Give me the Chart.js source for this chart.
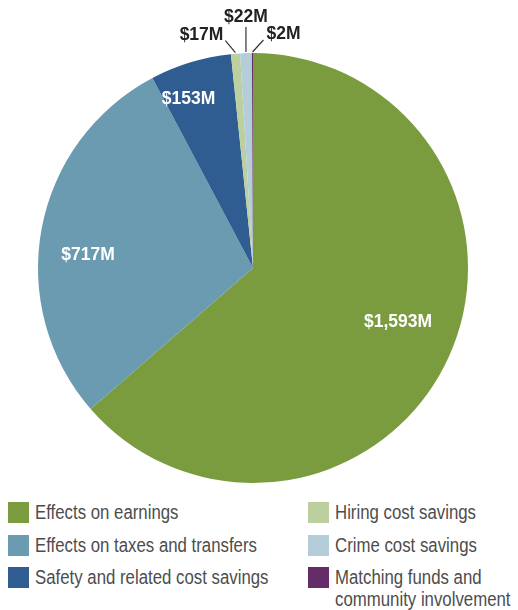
<!DOCTYPE html>
<html>
<head>
<meta charset="utf-8">
<script src="https://cdn.jsdelivr.net/npm/chart.js@4.4.0/dist/chart.umd.min.js"></script>
<style>
  body { margin: 0; background: #fff; }
  #wrap { position: relative; width: 518px; height: 610px; }
  #chartBox { position: absolute; left: 0; top: 0; width: 518px; height: 490px; }
  .item { position: absolute; font-family: "Liberation Sans", Arial, sans-serif; white-space: nowrap;
          font-size: 20px; line-height: 22px; color: #4d4d4d;
          transform: scaleX(0.84); transform-origin: left top; }
  .box { position: absolute; width: 21px; height: 21px; }
</style>
</head>
<body>
<div id="wrap">
  <div id="chartBox"><canvas id="myChart"></canvas></div>
</div>
<script>
// data (millions of dollars)
const categories = [
  "Effects on earnings",
  "Effects on taxes and transfers",
  "Safety and related cost savings",
  "Hiring cost savings",
  "Crime cost savings",
  ["Matching funds and", "community involvement"]
];
const values = [1593, 717, 153, 17, 22, 2];
const valueLabels = ["$1,593M", "$717M", "$153M", "$17M", "$22M", "$2M"];
const colors = ["#7a9c3e", "#6b9bb0", "#2f5d91", "#bccf9f", "#b3cdd9", "#652d67"];

// label placement: inside slices use [radius fraction, angle shift in deg]
// outside slices use a leader line that goes out by [dx, dy]
const insideLabels = { 0: [0.72, -4], 1: [0.77, -6], 2: [0.84, -4] };
const outsideLabels = { 3: [-10, -12], 4: [0, -25], 5: [11, -12] };

// draws the value labels and leader lines
const labelPlugin = {
  id: "valueLabels",
  afterDatasetsDraw(chart) {
    const ctx = chart.ctx;
    const arcs = chart.getDatasetMeta(0).data;
    ctx.save();
    ctx.font = "bold 17.5px 'Liberation Sans', Arial, sans-serif";
    arcs.forEach((arc, i) => {
      const p = arc.getProps(["x", "y", "startAngle", "endAngle", "outerRadius"], true);
      const mid = (p.startAngle + p.endAngle) / 2;
      if (insideLabels[i]) {
        const [f, shift] = insideLabels[i];
        const a = mid + shift * Math.PI / 180;
        const x = p.x + Math.cos(a) * p.outerRadius * f;
        const y = p.y + Math.sin(a) * p.outerRadius * f;
        ctx.fillStyle = "#fff";
        ctx.textAlign = "center";
        ctx.textBaseline = "middle";
        ctx.fillText(valueLabels[i], x, y);
      } else if (outsideLabels[i]) {
        const [dx, dy] = outsideLabels[i];
        const x0 = p.x + Math.cos(mid) * (p.outerRadius + 1);
        const y0 = p.y + Math.sin(mid) * (p.outerRadius + 1);
        const x1 = x0 + dx, y1 = y0 + dy;
        ctx.strokeStyle = "#333";
        ctx.lineWidth = 1.2;
        ctx.beginPath();
        ctx.moveTo(x0, y0);
        ctx.lineTo(x1, y1);
        ctx.stroke();
        ctx.fillStyle = "#222";
        ctx.textBaseline = "middle";
        if (dx < 0) {
          ctx.textAlign = "right";
          ctx.fillText(valueLabels[i], x1 - 2, y1 - 6);
        } else if (dx > 0) {
          ctx.textAlign = "left";
          ctx.fillText(valueLabels[i], x1 + 3, y1 - 6);
        } else {
          ctx.textAlign = "center";
          ctx.fillText(valueLabels[i], x1, y1 - 10);
        }
      }
    });
    ctx.restore();
  }
};

const chart = new Chart(document.getElementById("myChart"), {
  type: "pie",
  data: {
    labels: categories,
    datasets: [{
      data: values,
      backgroundColor: colors,
      borderWidth: 0
    }]
  },
  options: {
    responsive: true,
    maintainAspectRatio: false,
    animation: false,
    layout: { padding: { top: 53, bottom: 7, left: 38, right: 50 } },
    plugins: { legend: { display: false }, tooltip: { enabled: false } }
  },
  plugins: [labelPlugin]
});

// legend in two columns under the pie
const wrap = document.getElementById("wrap");
const rowTops = [502, 535, 567];
categories.forEach((cat, i) => {
  const col = Math.floor(i / 3), row = i % 3;
  const left = col === 0 ? 8 : 308;
  const box = document.createElement("div");
  box.className = "box";
  box.style.left = left + "px";
  box.style.top = rowTops[row] + "px";
  box.style.background = colors[i];
  wrap.appendChild(box);
  const txt = document.createElement("div");
  txt.className = "item";
  txt.style.left = (left + 27) + "px";
  txt.style.top = (rowTops[row] - 1) + "px";
  txt.innerHTML = Array.isArray(cat) ? cat.join("<br>") : cat;
  wrap.appendChild(txt);
});
</script>
</body>
</html>
